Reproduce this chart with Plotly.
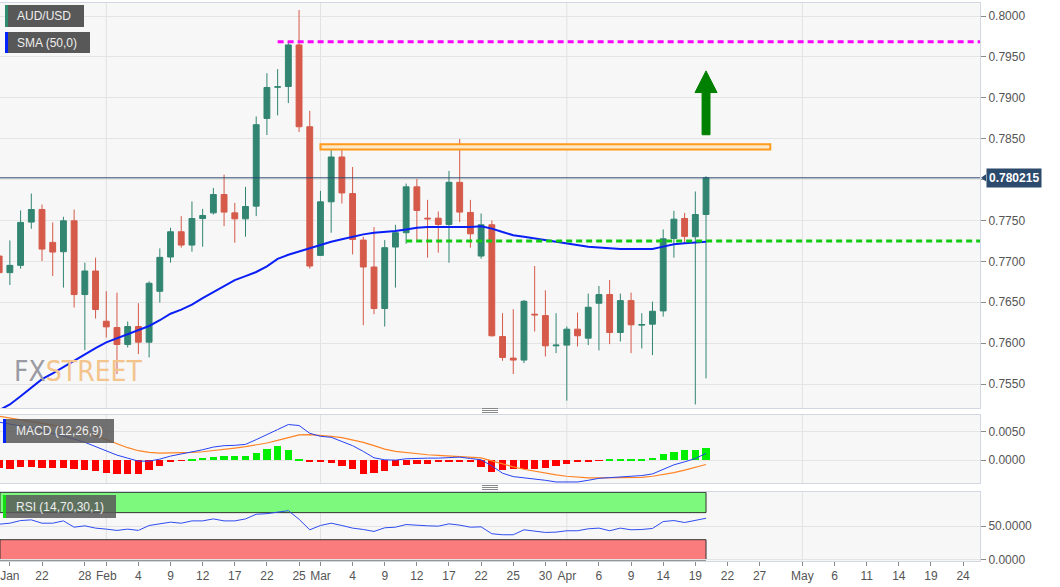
import plotly.graph_objects as go

# ---------------- data ----------------
dates = [
    "2021-01-18", "2021-01-19", "2021-01-20", "2021-01-21", "2021-01-22",
    "2021-01-25", "2021-01-26", "2021-01-27", "2021-01-28", "2021-01-29",
    "2021-02-01", "2021-02-02", "2021-02-03", "2021-02-04", "2021-02-05",
    "2021-02-08", "2021-02-09", "2021-02-10", "2021-02-11", "2021-02-12",
    "2021-02-15", "2021-02-16", "2021-02-17", "2021-02-18", "2021-02-19",
    "2021-02-22", "2021-02-23", "2021-02-24", "2021-02-25", "2021-02-26",
    "2021-03-01", "2021-03-02", "2021-03-03", "2021-03-04", "2021-03-05",
    "2021-03-08", "2021-03-09", "2021-03-10", "2021-03-11", "2021-03-12",
    "2021-03-15", "2021-03-16", "2021-03-17", "2021-03-18", "2021-03-19",
    "2021-03-22", "2021-03-23", "2021-03-24", "2021-03-25", "2021-03-26",
    "2021-03-29", "2021-03-30", "2021-03-31", "2021-04-01", "2021-04-02",
    "2021-04-05", "2021-04-06", "2021-04-07", "2021-04-08", "2021-04-09",
    "2021-04-12", "2021-04-13", "2021-04-14", "2021-04-15", "2021-04-16",
    "2021-04-19", "2021-04-20",
]
open_ = [
    0.77065, 0.76862, 0.76951, 0.77480, 0.77634, 0.77232, 0.77118, 0.77496, 0.76594, 0.76882,
    0.76268, 0.76191, 0.75984, 0.76203, 0.76012, 0.76634, 0.77053, 0.77362, 0.77199, 0.77524,
    0.77593, 0.77817, 0.77593, 0.77520, 0.77675, 0.78748, 0.79130, 0.79138, 0.79646, 0.78646,
    0.77073, 0.77728, 0.78276, 0.77829, 0.77260, 0.76931, 0.76423, 0.77175, 0.77350, 0.77911,
    0.77528, 0.77528, 0.77451, 0.77967, 0.77598, 0.77065, 0.77447, 0.76081, 0.75817, 0.75793,
    0.76354, 0.76337, 0.75967, 0.75976, 0.76171, 0.76061, 0.76488, 0.76594, 0.76130, 0.76520,
    0.76220, 0.76232, 0.76394, 0.77280, 0.77524, 0.77301, 0.77573,
]
high = [
    0.77581, 0.77256, 0.77622, 0.77829, 0.77695, 0.77476, 0.77545, 0.77634, 0.76984, 0.77045,
    0.76634, 0.76618, 0.76264, 0.76488, 0.76756, 0.77159, 0.77411, 0.77553, 0.77732, 0.77642,
    0.77898, 0.78061, 0.77715, 0.77911, 0.78772, 0.79301, 0.79350, 0.79687, 0.80073, 0.78841,
    0.77862, 0.78366, 0.78366, 0.78154, 0.77301, 0.77419, 0.77260, 0.77447, 0.77951, 0.78008,
    0.77752, 0.77610, 0.78106, 0.78496, 0.77752, 0.77585, 0.77500, 0.76366, 0.76415, 0.76528,
    0.76943, 0.76646, 0.76366, 0.76203, 0.76374, 0.76606, 0.76699, 0.76772, 0.76606, 0.76618,
    0.76366, 0.76508, 0.77390, 0.77618, 0.77593, 0.77854, 0.78041,
]
low = [
    0.76577, 0.76711, 0.76911, 0.77398, 0.77004, 0.76821, 0.76679, 0.76435, 0.75915, 0.76301,
    0.76069, 0.75622, 0.75947, 0.75866, 0.75825, 0.76496, 0.76984, 0.77167, 0.77118, 0.77179,
    0.77573, 0.77431, 0.77228, 0.77301, 0.77553, 0.78545, 0.78785, 0.78935, 0.78581, 0.76911,
    0.77065, 0.77350, 0.77707, 0.77085, 0.76220, 0.76354, 0.76203, 0.76679, 0.77215, 0.77260,
    0.77045, 0.77106, 0.76984, 0.77480, 0.77167, 0.77033, 0.76081, 0.75785, 0.75622, 0.75756,
    0.76142, 0.75837, 0.75878, 0.75297, 0.75959, 0.75976, 0.75911, 0.75988, 0.76020, 0.75878,
    0.75935, 0.75854, 0.76325, 0.77045, 0.77224, 0.75250, 0.75569,
]
close = [
    0.76862, 0.76951, 0.77476, 0.77634, 0.77150, 0.77114, 0.77496, 0.76594, 0.76882, 0.76411,
    0.76199, 0.75984, 0.76203, 0.76012, 0.76732, 0.77049, 0.77362, 0.77199, 0.77524, 0.77561,
    0.77817, 0.77602, 0.77520, 0.77671, 0.78671, 0.79126, 0.79134, 0.79646, 0.78646, 0.76943,
    0.77728, 0.78276, 0.77837, 0.77268, 0.76931, 0.76423, 0.77167, 0.77350, 0.77911, 0.77622,
    0.77520, 0.77451, 0.77967, 0.77602, 0.77337, 0.77447, 0.76090, 0.75825, 0.75793, 0.76512,
    0.76346, 0.75967, 0.75976, 0.76171, 0.76090, 0.76439, 0.76594, 0.76130, 0.76520, 0.76224,
    0.76228, 0.76390, 0.77276, 0.77516, 0.77305, 0.77573, 0.780215,
]
sma50 = [
    0.7518, 0.7525, 0.7535, 0.7546, 0.7556, 0.7563, 0.7571, 0.7578, 0.7586, 0.7594,
    0.7601, 0.7606, 0.7611, 0.7616, 0.7621, 0.7628, 0.7636, 0.7641, 0.7647, 0.7655,
    0.7662, 0.7669, 0.7677, 0.7682, 0.7687, 0.7694, 0.7703, 0.7708, 0.7712, 0.7716,
    0.7720, 0.7724, 0.7727, 0.7730, 0.7733, 0.7735, 0.7736, 0.7737, 0.7739, 0.7741,
    0.7742, 0.7742, 0.7742, 0.7742, 0.7742, 0.7743, 0.7740, 0.7736, 0.7732, 0.7730,
    0.7728, 0.7726, 0.7724, 0.7722, 0.7720, 0.7718, 0.7717, 0.7716, 0.7715, 0.7715,
    0.7715, 0.7715, 0.7718, 0.7721, 0.7722, 0.7723, 0.7724,
]
macd_line = [
    0.00664, 0.00635, 0.00606, 0.00564, 0.00517, 0.00470, 0.00429, 0.00370, 0.00312, 0.00241,
    0.00165, 0.00088, 0.00035, -0.00018, -0.00018, 0.00018, 0.00071, 0.00106, 0.00141, 0.00182,
    0.00229, 0.00253, 0.00259, 0.00276, 0.00359, 0.00441, 0.00535, 0.00623, 0.00606, 0.00470,
    0.00417, 0.00400, 0.00323, 0.00253, 0.00153, 0.00041, 0.00006, 0.00000, 0.00024, 0.00035,
    0.00035, 0.00035, 0.00047, 0.00053, 0.00029, 0.00006, -0.00100, -0.00229, -0.00288, -0.00306,
    -0.00323, -0.00353, -0.00382, -0.00388, -0.00382, -0.00353, -0.00318, -0.00306, -0.00294, -0.00282,
    -0.00270, -0.00241, -0.00159, -0.00082, -0.00029, 0.00029, 0.00118,
]
macd_signal = [
    0.00770, 0.00741, 0.00711, 0.00682, 0.00647, 0.00612, 0.00576, 0.00535, 0.00488, 0.00429,
    0.00359, 0.00282, 0.00218, 0.00165, 0.00135, 0.00123, 0.00123, 0.00123, 0.00135, 0.00147,
    0.00165, 0.00188, 0.00212, 0.00235, 0.00265, 0.00300, 0.00347, 0.00400, 0.00441, 0.00447,
    0.00435, 0.00417, 0.00394, 0.00359, 0.00312, 0.00253, 0.00194, 0.00153, 0.00129, 0.00112,
    0.00094, 0.00082, 0.00071, 0.00065, 0.00053, 0.00041, -0.00012, -0.00071, -0.00118, -0.00159,
    -0.00194, -0.00229, -0.00259, -0.00282, -0.00300, -0.00312, -0.00312, -0.00312, -0.00312, -0.00306,
    -0.00300, -0.00282, -0.00253, -0.00218, -0.00176, -0.00129, -0.00076,
]
macd_hist = [
    -0.0013, -0.0016, -0.0012, -0.0012, -0.0013, -0.0013, -0.0013, -0.0015, -0.0017, -0.0019,
    -0.0022, -0.0025, -0.0024, -0.0024, -0.0017, -0.0011, -0.0004, -0.0001, 0.0002, 0.00035,
    0.0006, 0.00075, 0.00075, 0.0007, 0.0012, 0.0019, 0.0024, 0.0018, 0.0001, -0.0002,
    -0.0003, -0.0005, -0.0010, -0.0016, -0.0024, -0.0022, -0.0019, -0.0011, -0.0009, -0.0007,
    -0.0006, -0.0003, -0.0002, -0.0002, -0.0003, -0.0012, -0.0021, -0.0017, -0.0016, -0.0016,
    -0.0015, -0.0013, -0.0010, -0.0007, -0.0004, -0.0002, -0.0001, 0.0001, 0.0002, 0.0002,
    0.0002, 0.0004, 0.0011, 0.0015, 0.0018, 0.0018, 0.0022,
]
rsi = [
    52.9, 54.4, 58.3, 59.3, 54.4, 54.4, 57.8, 48.5, 50.5, 47.1,
    45.6, 43.7, 45.6, 43.7, 51.0, 52.9, 55.9, 54.4, 57.8, 57.8,
    60.7, 57.8, 57.8, 60.7, 67.6, 68.5, 70.5, 72.9, 60.2, 44.6,
    51.0, 54.4, 51.0, 47.1, 45.1, 42.2, 47.6, 48.5, 52.4, 51.0,
    50.5, 50.0, 53.4, 51.5, 48.5, 49.0, 38.8, 37.3, 37.3, 44.6,
    43.2, 40.7, 41.2, 43.2, 43.2, 46.1, 47.1, 43.2, 47.1, 44.6,
    45.1, 46.6, 56.8, 58.3, 55.4, 58.3, 61.7,
]
# x-axis (trading-day index) tick labels, including future sessions
tick_pos = [1.0, 4, 8, 10, 13, 16, 19, 22, 25, 28, 30, 33, 36, 39, 42, 45, 48, 51, 53,
            56, 59, 62, 65, 68, 71, 75, 78, 81, 84, 87, 90]
tick_text = ["Jan", "22", "28", "Feb", "4", "9", "12", "17", "22", "25", "Mar", "4", "9",
             "12", "17", "22", "25", "30", "Apr", "6", "9", "14", "19", "22", "27", "May",
             "6", "11", "14", "19", "24"]
month_starts = [10, 30, 53, 75]
main_ticks = [0.755, 0.760, 0.765, 0.770, 0.775, 0.780, 0.785, 0.790, 0.795, 0.800]
main_tick_text = ["0.7550", "0.7600", "0.7650", "0.7700", "0.7750", "", "0.7850", "0.7900",
                  "0.7950", "0.8000"]

# drawn levels
resistance_high = 0.79685
resistance_zone = (0.78367, 0.78433)
support_level = 0.77250
last_price = close[-1]

# ---------------- layout geometry ----------------
W, H = 1060, 587
ML, MR, MT, MB = 0, 80, 3, 26
PW, PH = W - ML - MR, H - MT - MB
x_range = [0.078, 91.58]


def px_x(px):
    return (px - ML) / PW


def px_y(py):
    return (H - MB - py) / PH


dom_main = [px_y(408), 1.0]
dom_macd = [px_y(483), px_y(415)]
dom_rsi = [0.0, px_y(492)]

x = list(range(len(dates)))
n_last = x[-1]

GREEN = "#318571"
RED = "#d55a4a"
FONT = "Liberation Sans, Arial, sans-serif"

fig = go.Figure()

fig.add_trace(go.Candlestick(
    x=x, open=open_, high=high, low=low, close=close,
    increasing=dict(line=dict(color=GREEN, width=1), fillcolor=GREEN),
    decreasing=dict(line=dict(color=RED, width=1), fillcolor=RED),
    whiskerwidth=0, xaxis="x", yaxis="y", showlegend=False, hoverinfo="skip",
))
fig.add_trace(go.Scatter(
    x=x, y=sma50, mode="lines", line=dict(color="#0a1ff5", width=2),
    xaxis="x", yaxis="y", showlegend=False, hoverinfo="skip",
))

hist_colors = ["#00ee00" if v >= 0 else "#ff0000" for v in macd_hist]
fig.add_trace(go.Bar(
    x=x, y=macd_hist, marker=dict(color=hist_colors, line=dict(width=0)),
    width=0.68, xaxis="x2", yaxis="y2", showlegend=False, hoverinfo="skip",
))
fig.add_trace(go.Scatter(
    x=x, y=macd_signal, mode="lines", line=dict(color="#ff8426", width=1.2),
    xaxis="x2", yaxis="y2", showlegend=False, hoverinfo="skip",
))
fig.add_trace(go.Scatter(
    x=x, y=macd_line, mode="lines", line=dict(color="#2743f5", width=1),
    xaxis="x2", yaxis="y2", showlegend=False, hoverinfo="skip",
))
fig.add_trace(go.Scatter(
    x=x, y=rsi, mode="lines", line=dict(color="#2f4cf0", width=1),
    xaxis="x3", yaxis="y3", showlegend=False, hoverinfo="skip",
))

shapes = []
# month grid lines
for yd, xr in [("y domain", "x"), ("y2 domain", "x2"), ("y3 domain", "x3")]:
    for m in month_starts:
        shapes.append(dict(type="line", xref=xr, yref=yd, x0=m, x1=m, y0=0, y1=1,
                           line=dict(color="#e2e2e2", width=1), layer="below"))

# RSI zones
shapes.append(dict(type="rect", xref="x3", yref="y3", x0=x_range[0], x1=n_last, y0=70, y1=100,
                   fillcolor="#7dfa7d", line=dict(color="#333333", width=1), layer="below"))
shapes.append(dict(type="rect", xref="x3", yref="y3", x0=x_range[0], x1=n_last, y0=0, y1=30,
                   fillcolor="#fb7c7c", line=dict(color="#333333", width=1), layer="below"))

# last price line
shapes.append(dict(type="line", xref="x domain", yref="y", x0=0, x1=1, y0=last_price, y1=last_price,
                   line=dict(color="#2b4a6c", width=1)))
# magenta resistance
shapes.append(dict(type="line", xref="x", yref="y", x0=26, x1=x_range[1], y0=resistance_high,
                   y1=resistance_high, line=dict(color="#ff00ff", width=3, dash="6px,4px")))
# green support
shapes.append(dict(type="line", xref="x", yref="y", x0=38, x1=x_range[1], y0=support_level,
                   y1=support_level, line=dict(color="#11cc11", width=3, dash="6px,4px")))
# orange zone
shapes.append(dict(type="rect", xref="x", yref="y", x0=30, x1=72, y0=resistance_zone[0],
                   y1=resistance_zone[1], fillcolor="#fde9cc",
                   line=dict(color="#ff9a1a", width=2)))
# green arrow
ax = n_last
ay0, ay1, ay2 = 0.78548, 0.79064, 0.79329
sw, hw = 0.37, 1.03
path = (f"M {ax - sw} {ay0} L {ax + sw} {ay0} L {ax + sw} {ay1} L {ax + hw} {ay1} "
        f"L {ax} {ay2} L {ax - hw} {ay1} L {ax - sw} {ay1} Z")
shapes.append(dict(type="path", xref="x", yref="y", path=path, fillcolor="#008000",
                   line=dict(color="#008000", width=1)))

# pointer of the last-price label
dp = 0.00045
shapes.append(dict(type="path", xref="paper", yref="y",
                   path=(f"M {px_x(981)} {last_price} L {px_x(986)} {last_price + dp} "
                         f"L {px_x(986)} {last_price - dp} Z"),
                   fillcolor="#2b4a6c", line=dict(width=0)))


# legend boxes
def box(x0, y0, x1, y1, strip, alpha=1.0):
    shapes.append(dict(type="rect", xref="paper", yref="paper", x0=px_x(x0), x1=px_x(x1),
                       y0=px_y(y1), y1=px_y(y0), fillcolor=f"rgba(88,88,88,{alpha})",
                       line=dict(width=0)))
    shapes.append(dict(type="rect", xref="paper", yref="paper", x0=px_x(x0), x1=px_x(x0 + 3),
                       y0=px_y(y1), y1=px_y(y0), fillcolor=strip, line=dict(width=0)))


box(5, 5, 84, 27, "#2e8b6f")
box(5, 32, 90, 53, "#0022ff")
box(3, 419, 114, 443, "#0022ff", 0.85)
box(3, 495, 116, 518, "#11dd11", 0.85)

# panel handles
for hy in [410.5, 487.5]:
    for k in (-2, 0, 2):
        shapes.append(dict(type="line", xref="paper", yref="paper", x0=px_x(482), x1=px_x(498),
                           y0=px_y(hy + k), y1=px_y(hy + k), line=dict(color="#888888", width=1)))

annotations = []


def label(txt, px, py, size=12, color="#eeeeee"):
    annotations.append(dict(text=txt, xref="paper", yref="paper", x=px_x(px), y=px_y(py),
                            xanchor="left", yanchor="middle", showarrow=False,
                            font=dict(family=FONT, size=size, color=color)))


label("AUD/USD", 15, 16)
label("SMA (50,0)", 15, 43)
label("MACD (12,26,9)", 14, 431)
label("RSI (14,70,30,1)", 14, 507)

annotations.append(dict(
    text='<span style="color:#9a9aa3">FX</span><span style="color:#f3c48c">STREET</span>',
    xref="paper", yref="paper", x=px_x(12), y=px_y(371), xanchor="left", yanchor="middle",
    showarrow=False,
    font=dict(family="DejaVu Sans Condensed, Liberation Sans Narrow, Arial Narrow, sans-serif",
              size=28)))

annotations.append(dict(
    text=f"<b>{last_price:.6f}</b>", xref="paper", yref="y", x=px_x(986), y=last_price,
    xanchor="left", yanchor="middle", showarrow=False, bgcolor="#2b4a6c", borderpad=2,
    font=dict(family=FONT, size=12, color="#ffffff")))

axis_common = dict(showline=True, mirror=True, linecolor="#d3d7e3", linewidth=1)
yaxis_common = dict(side="right", ticks="outside", ticklen=5, tickcolor="#8a8a8a",
                    gridcolor="#e4e4e4", zeroline=False, tickformat=".4f",
                    tickfont=dict(family=FONT, size=12, color="#555555"), **axis_common)

fig.update_layout(
    width=W, height=H,
    margin=dict(l=ML, r=MR, t=MT, b=MB),
    paper_bgcolor="#ffffff", plot_bgcolor="#f7f7f7",
    showlegend=False, bargap=0, boxgap=0.22,
    xaxis=dict(domain=[0, 1], range=x_range, anchor="y", showticklabels=False, showgrid=False,
               rangeslider=dict(visible=False), **axis_common),
    xaxis2=dict(domain=[0, 1], range=x_range, anchor="y2", matches="x", showticklabels=False,
                showgrid=False, **axis_common),
    xaxis3=dict(domain=[0, 1], range=x_range, anchor="y3", matches="x", showgrid=False,
                tickvals=tick_pos, ticktext=tick_text, ticks="outside", ticklen=4,
                tickcolor="#8a8a8a", ticklabeloverflow="allow",
                tickfont=dict(family=FONT, size=12, color="#555555"), **axis_common),
    yaxis=dict(domain=dom_main, range=[0.75207, 0.80159], tickvals=main_ticks,
               ticktext=main_tick_text, **yaxis_common),
    yaxis2=dict(domain=dom_macd, range=[-0.0040, 0.0079], tickvals=[0.0, 0.005], **yaxis_common),
    yaxis3=dict(domain=dom_rsi, range=[-1.5, 100.5], tickvals=[0, 50], **yaxis_common),
    shapes=shapes, annotations=annotations,
)

fig.write_html("out.html", config={"displayModeBar": False},
               post_script="document.body.style.margin='0';")
